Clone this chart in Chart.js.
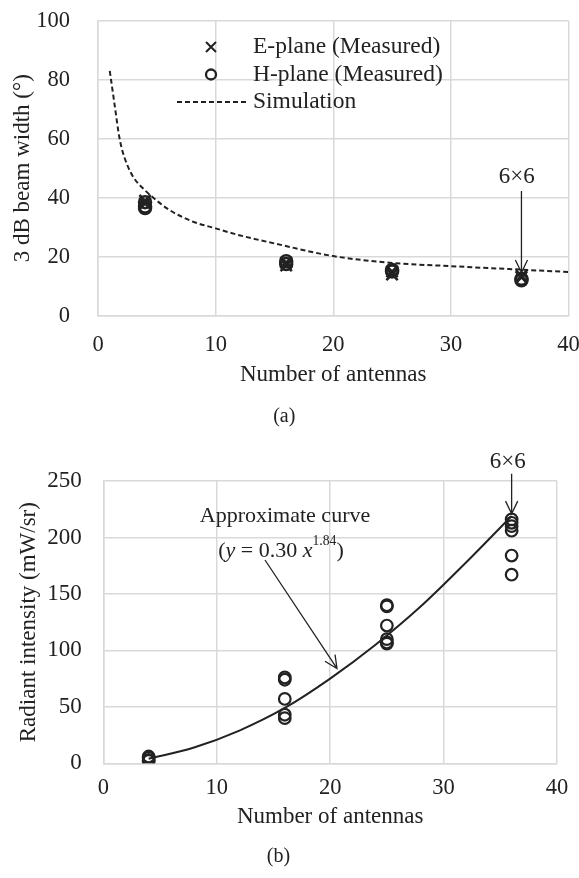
<!DOCTYPE html>
<html>
<head>
<meta charset="utf-8">
<script src="https://cdn.jsdelivr.net/npm/chart.js@4/dist/chart.umd.min.js"></script>
<style>
  html, body { margin: 0; padding: 0; background: #fff; }
  body { width: 579px; height: 878px; position: relative; overflow: hidden; }
  canvas { position: absolute; left: 0; }
  #chart-a { top: 0; }
  #chart-b { top: 440px; }
</style>
</head>
<body>
<canvas id="chart-a" width="579" height="440" style="width:579px;height:440px"></canvas>
<canvas id="chart-b" width="579" height="438" style="width:579px;height:438px"></canvas>
<script>
// (a) beam width
const antennaCounts = [4, 16, 25, 36];
const ePlaneWidth = [[39, 38], [18, 17], [15, 14], [13.5, 13]];
const hPlaneWidth = [[38.5, 37, 36.5], [18.5, 17.5], [15.5, 15], [12.5, 12]];
const simAntennas = [1, 1.25, 1.5, 1.75, 2, 2.5, 3, 4, 5, 6, 8, 10, 12, 15, 20, 25, 30, 35, 40];
const simWidth = [83, 76, 69, 62, 57, 51, 47, 42.5, 39, 36, 32, 29.6, 27.3, 24.5, 20.2, 17.9, 16.8, 15.8, 14.8];

// (b) radiant intensity
const intensity = [[6, 5, 3, 2], [76, 74, 57, 43, 40], [140, 139, 122, 110, 107, 106], [216, 213, 210, 206, 184, 167]];
const fitAntennas = [4, 8, 12, 16, 20, 24, 28, 32, 36];
const fitIntensity = [4, 14, 29, 49, 75, 105, 139, 178, 219];

const xTicks = [0, 10, 20, 30, 40];
const widthTicks = [0, 20, 40, 60, 80, 100];
const intensityTicks = [0, 50, 100, 150, 200, 250];

const serif = "'Liberation Serif', 'Times New Roman', serif";
const ink = '#222';
const gridColor = '#d9d9d9';

Chart.defaults.font.family = serif;
Chart.defaults.color = ink;

function pointsFor(counts, groups) {
    return counts.flatMap((n, i) => groups[i].map(v => ({x: n, y: v})));
}

function pairs(xs, ys) {
    return xs.map((x, i) => ({x: x, y: ys[i]}));
}

function fixTicks(values) {
    return function(scale) {
        scale.ticks = values.map(v => ({value: v}));
    };
}

function fixSize(size) {
    return function(scale) {
        if (scale.isHorizontal()) {
            scale.height = size;
        } else {
            scale.width = size;
        }
        scale.paddingLeft = 0;
        scale.paddingRight = 0;
        scale.paddingTop = 0;
        scale.paddingBottom = 0;
    };
}

function drawArrow(ctx, x1, y1, x2, y2) {
    const ang = Math.atan2(y2 - y1, x2 - x1);
    const len = 14;
    ctx.save();
    ctx.strokeStyle = ink;
    ctx.lineWidth = 1.3;
    ctx.beginPath();
    ctx.moveTo(x1, y1);
    ctx.lineTo(x2, y2);
    ctx.moveTo(x2 - len * Math.cos(ang - 0.45), y2 - len * Math.sin(ang - 0.45));
    ctx.lineTo(x2, y2);
    ctx.lineTo(x2 - len * Math.cos(ang + 0.45), y2 - len * Math.sin(ang + 0.45));
    ctx.stroke();
    ctx.restore();
}

function drawText(ctx, text, x, y, size) {
    ctx.save();
    ctx.font = size + 'px ' + serif;
    ctx.fillStyle = ink;
    ctx.textAlign = 'center';
    ctx.textBaseline = 'middle';
    ctx.fillText(text, x, y);
    ctx.restore();
}

// mixed text: italic variables and a superscript
function drawRich(ctx, parts, cx, cy, size) {
    ctx.save();
    ctx.fillStyle = ink;
    ctx.textBaseline = 'middle';
    ctx.textAlign = 'left';
    const fontOf = p => (p.italic ? 'italic ' : '') + (p.sup ? size * 0.62 : size) + 'px ' + serif;
    let total = 0;
    parts.forEach(p => { ctx.font = fontOf(p); total += ctx.measureText(p.t).width; });
    let x = cx - total / 2;
    parts.forEach(p => {
        ctx.font = fontOf(p);
        ctx.fillText(p.t, x, p.sup ? cy - size * 0.42 : cy);
        x += ctx.measureText(p.t).width;
    });
    ctx.restore();
}

const axisA = {
    x: {
        type: 'linear', min: 0, max: 40,
        afterBuildTicks: fixTicks(xTicks), afterFit: fixSize(73.5),
        grid: {color: gridColor, lineWidth: 1.5, drawTicks: false},
        border: {color: gridColor, width: 1.5},
        ticks: {font: {size: 22.5}, padding: 16, color: ink},
        title: {display: true, text: 'Number of antennas', font: {size: 23}, color: ink, padding: 0}
    },
    y: {
        type: 'linear', min: 0, max: 100,
        afterBuildTicks: fixTicks(widthTicks), afterFit: fixSize(98),
        grid: {color: gridColor, lineWidth: 1.5, drawTicks: false},
        border: {color: gridColor, width: 1.5},
        ticks: {font: {size: 22.5}, padding: 28, color: ink},
        title: {display: true, text: '3 dB beam width (°)', font: {size: 23}, color: ink, padding: {top: 8.8, bottom: 0}}
    }
};

const notesA = {
    id: 'notesA',
    afterDatasetsDraw(chart) {
        const ctx = chart.ctx;
        const xs = chart.scales.x, ys = chart.scales.y;
        // legend
        const rows = [47, 74.5, 102];
        const mx = 211, tx = 253;
        ctx.save();
        ctx.strokeStyle = ink;
        ctx.lineWidth = 2;
        ctx.beginPath();
        ctx.moveTo(mx - 5, rows[0] - 5); ctx.lineTo(mx + 5, rows[0] + 5);
        ctx.moveTo(mx + 5, rows[0] - 5); ctx.lineTo(mx - 5, rows[0] + 5);
        ctx.stroke();
        ctx.lineWidth = 2.3;
        ctx.beginPath();
        ctx.arc(mx, rows[1], 5, 0, Math.PI * 2);
        ctx.stroke();
        ctx.lineWidth = 1.8;
        ctx.setLineDash([5, 3]);
        ctx.beginPath();
        ctx.moveTo(177, rows[2]); ctx.lineTo(246, rows[2]);
        ctx.stroke();
        ctx.setLineDash([]);
        ctx.font = '23.5px ' + serif;
        ctx.fillStyle = ink;
        ctx.textAlign = 'left';
        ctx.textBaseline = 'middle';
        chart.data.datasets.forEach((ds, i) => ctx.fillText(ds.label, tx, rows[i]));
        ctx.restore();
        // 6x6 marker
        drawText(ctx, '6×6', xs.getPixelForValue(35.6), ys.getPixelForValue(47), 23);
        drawArrow(ctx, xs.getPixelForValue(36), ys.getPixelForValue(42.3), xs.getPixelForValue(36), ys.getPixelForValue(14.6));
    }
};

new Chart(document.getElementById('chart-a'), {
    type: 'scatter',
    data: {
        datasets: [{
            label: 'E-plane (Measured)',
            data: pointsFor(antennaCounts, ePlaneWidth),
            pointStyle: 'crossRot', pointRadius: 8, borderWidth: 2.5,
            borderColor: ink, backgroundColor: ink
        }, {
            label: 'H-plane (Measured)',
            data: pointsFor(antennaCounts, hPlaneWidth),
            pointStyle: 'circle', pointRadius: 6, borderWidth: 2.5,
            borderColor: ink, backgroundColor: 'rgba(0,0,0,0)'
        }, {
            label: 'Simulation',
            data: pairs(simAntennas, simWidth),
            showLine: true, pointRadius: 0, borderWidth: 2,
            borderDash: [5, 3], borderColor: ink,
            cubicInterpolationMode: 'monotone'
        }]
    },
    options: {
        responsive: false,
        animation: false,
        layout: {padding: {top: 20.7, right: 10.5, bottom: 10.8, left: 0}},
        plugins: {
            legend: {display: false},
            tooltip: {enabled: false},
            title: {display: true, position: 'bottom', text: '(a)', font: {size: 20, weight: 'normal'}, color: ink, padding: {top: 16, bottom: 0}}
        },
        scales: axisA
    },
    plugins: [notesA]
});

const axisB = {
    x: {
        type: 'linear', min: 0, max: 40,
        afterBuildTicks: fixTicks(xTicks), afterFit: fixSize(67.9),
        grid: {color: gridColor, lineWidth: 1.5, drawTicks: false},
        border: {color: gridColor, width: 1.5},
        ticks: {font: {size: 22.5}, padding: 11.5, color: ink},
        title: {display: true, text: 'Number of antennas', font: {size: 23}, color: ink, padding: 0}
    },
    y: {
        type: 'linear', min: 0, max: 250,
        afterBuildTicks: fixTicks(intensityTicks), afterFit: fixSize(103.3),
        grid: {color: gridColor, lineWidth: 1.5, drawTicks: false},
        border: {color: gridColor, width: 1.5},
        ticks: {font: {size: 23}, padding: 21.6, color: ink},
        title: {display: true, text: 'Radiant intensity (mW/sr)', font: {size: 23}, color: ink, padding: {top: 15.1, bottom: 0}}
    }
};

const notesB = {
    id: 'notesB',
    afterDatasetsDraw(chart) {
        const ctx = chart.ctx;
        const xs = chart.scales.x, ys = chart.scales.y;
        drawText(ctx, 'Approximate curve', 285, 76, 22);
        drawRich(ctx, [
            {t: '('}, {t: 'y', italic: true}, {t: ' = 0.30 '}, {t: 'x', italic: true},
            {t: '1.84', sup: true}, {t: ')'}
        ], 281, 111, 22);
        drawArrow(ctx, 265, 120, xs.getPixelForValue(20.6), ys.getPixelForValue(84));
        drawText(ctx, '6×6', xs.getPixelForValue(35.66), ys.getPixelForValue(266.6), 23);
        drawArrow(ctx, xs.getPixelForValue(36), ys.getPixelForValue(256.4), xs.getPixelForValue(36), ys.getPixelForValue(221));
    }
};

new Chart(document.getElementById('chart-b'), {
    type: 'scatter',
    data: {
        datasets: [{
            label: 'Measured',
            data: pointsFor(antennaCounts, intensity),
            pointStyle: 'circle', pointRadius: 5.8, borderWidth: 2.2,
            borderColor: ink, backgroundColor: 'rgba(0,0,0,0)'
        }, {
            label: 'Approximate curve',
            data: pairs(fitAntennas, fitIntensity),
            showLine: true, pointRadius: 0, borderWidth: 2,
            borderColor: ink, cubicInterpolationMode: 'monotone'
        }]
    },
    options: {
        responsive: false,
        animation: false,
        layout: {padding: {top: 41, right: 22, bottom: 9, left: 0}},
        plugins: {
            legend: {display: false},
            tooltip: {enabled: false},
            title: {display: true, position: 'bottom', text: '(b)', font: {size: 20, weight: 'normal'}, color: ink, padding: {top: 13.8, bottom: 0}}
        },
        scales: axisB
    },
    plugins: [notesB]
});
</script>
</body>
</html>
